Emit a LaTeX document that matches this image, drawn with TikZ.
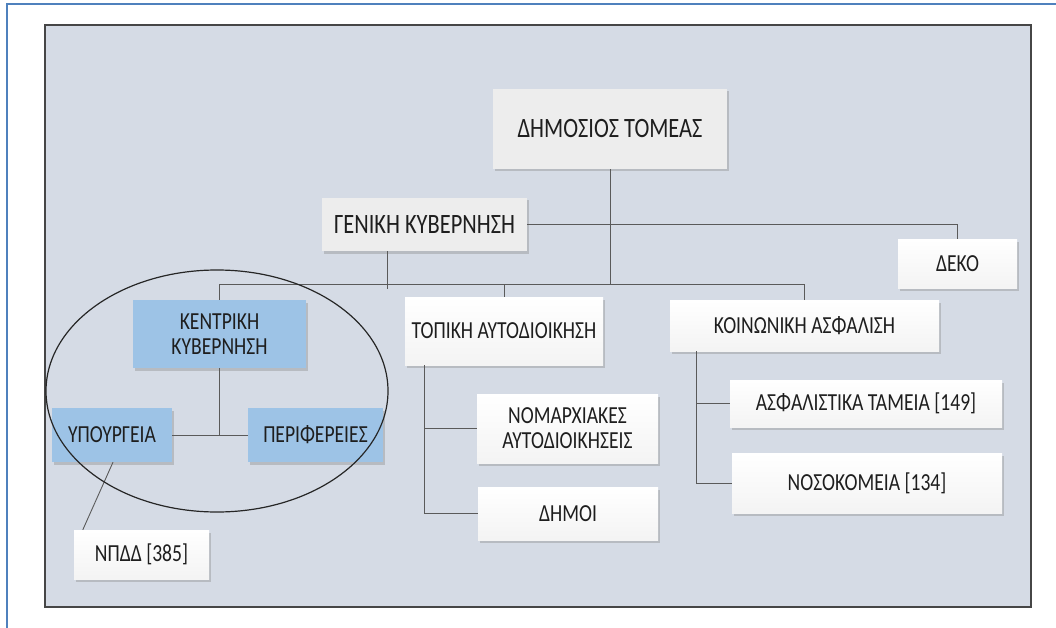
\documentclass[tikz,border=0pt]{standalone}
\usepackage{fontspec}
\setmainfont{Carlito}[FakeStretch=0.8]
\usetikzlibrary{shadows}
\definecolor{panel}{HTML}{D5DBE5}
\definecolor{frameblue}{HTML}{4F81BD}
\definecolor{boxblue}{HTML}{9DC3E6}
\definecolor{lineg}{HTML}{5A5A5A}
\definecolor{txt}{HTML}{1E1E1E}
\begin{document}
\begin{tikzpicture}[x=1pt,y=-1pt,
  box/.style={rectangle, inner sep=0pt, align=center, text=txt,
    font=\fontsize{24.5}{25}\selectfont,
    drop shadow={opacity=0.35,shadow xshift=1.5pt,shadow yshift=-2.5pt}},
  whitebox/.style={box, top color=white, bottom color=gray!9},
  graybox/.style={box, fill=gray!14, font=\fontsize{28}{30}\selectfont},
  bluebox/.style={box, fill=boxblue},
  conn/.style={draw=lineg, line width=0.9pt}]
\useasboundingbox (0,0) rectangle (1056,628);
\draw[frameblue, line width=2.5pt] (7,650) -- (7,4) -- (1080,4);
\draw[draw=gray!55!black, fill=panel, line width=1.5pt] (45,25) rectangle (1031,607);

\node[graybox, minimum width=234pt, minimum height=80pt] (DT) at (610,129) {ΔΗΜΟΣΙΟΣ ΤΟΜΕΑΣ};
\node[graybox, minimum width=205pt, minimum height=53pt] (GK) at (424.5,224.5) {ΓΕΝΙΚΗ ΚΥΒΕΡΝΗΣΗ};
\node[whitebox, minimum width=119pt, minimum height=49pt] (DEKO) at (957.5,263.5) {ΔΕΚΟ};
\node[bluebox, minimum width=173pt, minimum height=68pt] (KK) at (219.5,334) {ΚΕΝΤΡΙΚΗ\\ΚΥΒΕΡΝΗΣΗ};
\node[bluebox, minimum width=120pt, minimum height=54pt] (YP) at (112,435) {ΥΠΟΥΡΓΕΙΑ};
\node[bluebox, minimum width=135pt, minimum height=54pt] (PE) at (315.5,435) {ΠΕΡΙΦΕΡΕΙΕΣ};
\node[whitebox, minimum width=135pt, minimum height=49pt] (NPDD) at (141.5,554.5) {ΝΠΔΔ [385]};
\node[whitebox, minimum width=198pt, minimum height=68pt] (TA) at (504,331) {ΤΟΠΙΚΗ ΑΥΤΟΔΙΟΙΚΗΣΗ};
\node[whitebox, minimum width=181pt, minimum height=69pt] (NA) at (567.5,428.5) {ΝΟΜΑΡΧΙΑΚΕΣ\\ΑΥΤΟΔΙΟΙΚΗΣΕΙΣ};
\node[whitebox, minimum width=180pt, minimum height=53pt] (DH) at (568,513.5) {ΔΗΜΟΙ};
\node[whitebox, minimum width=269pt, minimum height=51pt] (KA) at (804.5,325.5) {ΚΟΙΝΩΝΙΚΗ ΑΣΦΑΛΙΣΗ};
\node[whitebox, minimum width=272pt, minimum height=47pt] (AT) at (866,403.5) {ΑΣΦΑΛΙΣΤΙΚΑ ΤΑΜΕΙΑ [149]};
\node[whitebox, minimum width=270pt, minimum height=60pt] (NO) at (867,483) {ΝΟΣΟΚΟΜΕΙΑ [134]};

\coordinate (bus) at (0,284);
\coordinate (gkdrop) at (387,289);

\draw[conn] (DT.south) -- (DT.south |- bus);
\draw[conn] (GK.east) -| (DEKO.north);
\draw[conn] (gkdrop |- GK.south) -- (gkdrop);
\draw[conn] (KK.north) -- (KK.north |- bus) -- (KA.north |- bus) -- (KA.north);
\draw[conn] (TA.north) -- (TA.north |- bus);
\draw[conn] (KK.south) -- (KK.south |- PE.west);
\draw[conn] (YP.east) -- (PE.west);
\draw[conn] ([xshift=1pt]YP.south) -- ([xshift=9pt]NPDD.north west);
\draw[conn] ([xshift=20pt]TA.south west) |- (NA.west);
\draw[conn] ([xshift=20pt]TA.south west) |- (DH.west);
\draw[conn] ([xshift=27pt]KA.south west) |- (AT.west);
\draw[conn] ([xshift=27pt]KA.south west) |- (NO.west);

\draw[black!85, line width=1.2pt] (217,391) ellipse [x radius=171, y radius=121];
\end{tikzpicture}
\end{document}
